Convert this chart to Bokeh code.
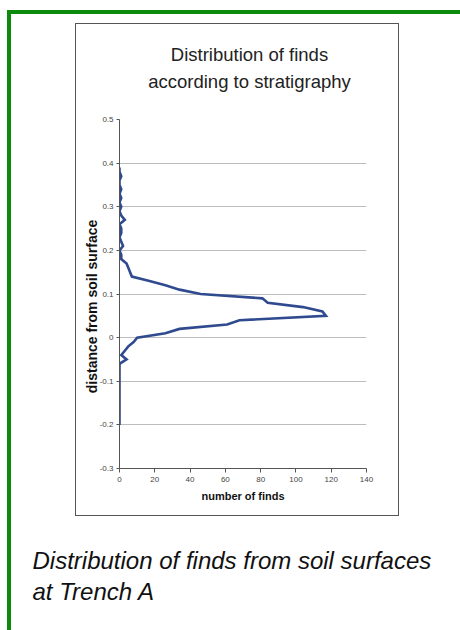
import math
from bokeh.plotting import figure
from bokeh.models import Label, FixedTicker, Range1d
from bokeh.embed import file_html
from bokeh.resources import INLINE

# ---- data ----
distance = [0.39, 0.38, 0.37, 0.36, 0.35, 0.34, 0.33, 0.32, 0.31, 0.30,
            0.29, 0.28, 0.27, 0.26, 0.25, 0.24, 0.23, 0.22, 0.21, 0.20,
            0.19, 0.18, 0.17, 0.16, 0.15, 0.14, 0.13, 0.12, 0.11, 0.10,
            0.09, 0.08, 0.07, 0.06, 0.05, 0.04, 0.03, 0.02, 0.01, 0.00,
            -0.01, -0.02, -0.03, -0.04, -0.05, -0.06, -0.07, -0.08, -0.09, -0.10,
            -0.11, -0.12, -0.13, -0.14, -0.15, -0.16, -0.17, -0.18, -0.19, -0.20]
finds = [0, 0, 1, 0, 0, 1, 0, 1, 0, 1,
         0, 1, 3, 0, 1, 1, 0, 1, 2, 0,
         1, 1, 4, 5, 6, 7, 17, 26, 34, 46,
         81, 84, 104, 115, 117, 68, 61, 34, 26, 10,
         8, 5, 3, 1, 4, 0, 0, 0, 0, 0,
         0, 0, 0, 0, 0, 0, 0, 0, 0, 0]

x_ticks = [0, 20, 40, 60, 80, 100, 120, 140]
y_ticks = [-0.3, -0.2, -0.1, 0.0, 0.1, 0.2, 0.3, 0.4, 0.5]
y_tick_labels = ["-0.3", "-0.2", "-0.1", "0", "0.1", "0.2", "0.3", "0.4", "0.5"]

title_text = "Distribution of finds\naccording to stratigraphy"
x_title = "number of finds"
y_title = "distance from soil surface"
caption_text = "Distribution of finds from soil surfaces\nat Trench A"

FONT = "Liberation Sans"
GREEN = "#0b8a0b"
BOXC = "#555555"

def bar(color, x, y, w, h):
    return f"linear-gradient({color},{color}) {x}px {y}px / {w}px {h}px no-repeat"

# decorative frame (green L border of the page, grey box around the chart)
background = ", ".join([
    bar(GREEN, 7, 10, 4, 640),
    bar(GREEN, 7, 10, 460, 4),
    bar(BOXC, 75, 23, 324, 1),
    bar(BOXC, 75, 515, 324, 1),
    bar(BOXC, 75, 23, 1, 493),
    bar(BOXC, 398, 23, 1, 493),
]) + ", white"

# frame occupies page x 119..366, y 119..468
p = figure(width=460, height=630, output_backend="svg", toolbar_location=None,
           x_range=Range1d(0, 140), y_range=Range1d(-0.3, 0.5),
           min_border_left=119, min_border_right=94,
           min_border_top=119, min_border_bottom=162,
           styles={"background": background})
p.background_fill_color = "white"
p.border_fill_color = None
p.outline_line_color = None

p.line(finds, distance, line_color="#2f4a8e", line_width=2.6, line_join="miter")

# axes
p.xaxis.ticker = FixedTicker(ticks=x_ticks)
p.yaxis.ticker = FixedTicker(ticks=y_ticks)
p.yaxis.major_label_overrides = {t: l for t, l in zip(y_ticks, y_tick_labels)}
for ax in (p.xaxis[0], p.yaxis[0]):
    ax.axis_line_color = "#555555"
    ax.major_tick_line_color = "#555555"
    ax.minor_tick_line_color = None
    ax.major_tick_in = 0
    ax.major_tick_out = 4
    ax.major_label_text_font = FONT
    ax.major_label_text_font_size = "8px"
    ax.major_label_text_color = "#444444"
    ax.major_label_standoff = 4
p.yaxis.major_tick_out = 3
p.yaxis.major_label_standoff = 3

p.xaxis.axis_label = x_title
p.xaxis.axis_label_text_font = FONT
p.xaxis.axis_label_text_font_size = "11px"
p.xaxis.axis_label_text_font_style = "bold"
p.xaxis.axis_label_text_color = "#111111"
p.xaxis.axis_label_standoff = 5

p.xgrid.visible = False
p.ygrid.grid_line_color = "#bdbdbd"
p.ygrid.grid_line_width = 1

# chart title: "above" panel, origin at frame top-left (page 119, 119), y up
p.add_layout(Label(x=130, y=28, x_units="screen", y_units="screen",
                   text=title_text, text_font=FONT, text_font_size="18.5px",
                   text_color="#222222", text_align="center", text_baseline="bottom",
                   text_line_height=1.25), "above")

# y title: "right" panel, origin at frame bottom-right (page 366, 468), y up
p.add_layout(Label(x=-275, y=162, x_units="screen", y_units="screen",
                   text=y_title, text_font=FONT, text_font_size="14px", text_font_style="bold",
                   text_color="#111111", text_align="center", text_baseline="middle",
                   angle=math.pi / 2), "right")

# caption: "below" panel, stacked under the x axis
p.add_layout(Label(x=-87, y=16, x_units="screen", y_units="screen",
                   text=caption_text, text_font=FONT, text_font_size="24px",
                   text_font_style="italic", text_color="#111111",
                   text_align="left", text_baseline="top", text_line_height=1.15), "below")

open("out.html", "w").write(file_html(p, INLINE))
